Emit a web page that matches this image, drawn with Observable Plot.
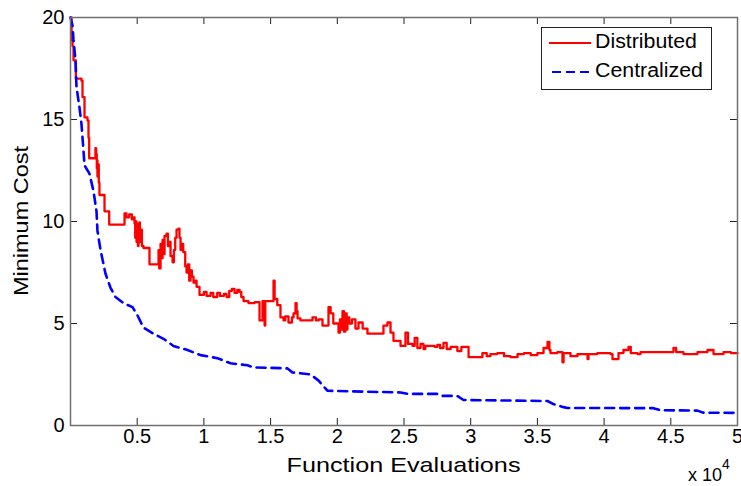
<!DOCTYPE html>
<html>
<head>
<meta charset="utf-8">
<script src="https://cdn.jsdelivr.net/npm/d3@7"></script>
<script src="https://cdn.jsdelivr.net/npm/@observablehq/plot@0.6"></script>
<style>
  html, body { margin: 0; padding: 0; background: #ffffff; }
  #chart { width: 741px; height: 486px; }
</style>
</head>
<body>
<div id="chart"></div>
<script>
// x values in units of 10^4 function evaluations
const distX = [0,0.0075,0.008,0.015,0.0225,0.037,0.04,0.082,0.09,0.105,0.127,0.135,0.14,0.18,0.187,0.192,0.197,0.2,0.202,0.207,0.212,0.217,0.255,0.29,0.405,0.42,0.44,0.46,0.472,0.48,0.485,0.49,0.495,0.5,0.505,0.51,0.517,0.52,0.527,0.535,0.547,0.592,0.645,0.66,0.665,0.675,0.68,0.69,0.695,0.705,0.72,0.73,0.74,0.75,0.765,0.775,0.785,0.795,0.81,0.817,0.825,0.832,0.845,0.86,0.87,0.88,0.89,0.9,0.91,0.922,0.935,0.945,0.967,1.0,1.02,1.05,1.07,1.1,1.12,1.15,1.17,1.19,1.21,1.23,1.25,1.267,1.28,1.297,1.334,1.38,1.417,1.44,1.455,1.46,1.514,1.522,1.53,1.55,1.574,1.597,1.61,1.634,1.66,1.672,1.687,1.695,1.702,1.724,1.784,1.814,1.84,1.86,1.889,1.919,1.934,1.95,1.97,2.009,2.02,2.03,2.039,2.05,2.06,2.07,2.076,2.09,2.11,2.136,2.159,2.19,2.226,2.324,2.346,2.376,2.399,2.421,2.474,2.511,2.53,2.564,2.58,2.6,2.624,2.646,2.66,2.73,2.75,2.77,2.796,2.82,2.85,2.9,2.93,2.984,3.05,3.088,3.12,3.148,3.2,3.25,3.298,3.351,3.4,3.45,3.5,3.546,3.576,3.59,3.598,3.65,3.688,3.696,3.748,3.8,3.846,3.876,3.883,3.95,4.048,4.063,4.108,4.145,4.183,4.2,4.25,4.273,4.4,4.498,4.52,4.54,4.595,4.648,4.7,4.775,4.82,4.895,4.95,5.0];
const distY = [20,19.8,18.9,18.6,17.9,17.9,17.0,16.9,16.1,15.1,14.95,14.1,13.1,13.1,13.6,13.3,12.6,13.0,12.2,12.8,11.9,11.3,10.5,9.85,10.4,10.2,10.35,10.1,10.2,9.9,9.2,10.0,9.0,9.6,8.8,9.9,9.95,9.0,9.6,8.8,8.7,7.9,7.9,8.6,7.7,8.9,8.2,9.1,8.4,9.3,9.4,8.8,9.0,8.3,8.0,8.6,9.2,9.6,9.65,9.2,8.6,8.9,8.5,7.8,7.5,7.9,7.1,7.6,7.3,7.0,7.1,6.8,6.4,6.55,6.35,6.5,6.3,6.5,6.35,6.45,6.3,6.6,6.7,6.5,6.65,6.55,6.3,6.1,6.0,6.05,5.15,6.1,4.9,6.1,6.1,7.1,6.2,5.9,5.3,5.15,5.35,5.05,5.3,5.5,6.0,5.6,5.25,5.15,5.15,5.3,5.15,5.2,4.9,4.9,5.8,5.5,5.0,4.55,5.2,4.7,5.6,4.6,5.5,4.7,5.3,5.0,5.2,4.75,5.05,4.75,4.5,4.5,4.9,5.05,4.55,4.15,3.9,4.55,4.0,3.9,4.3,3.8,4.0,3.75,3.9,3.85,3.95,3.8,4.05,3.75,3.85,3.65,3.85,3.35,3.35,3.55,3.4,3.5,3.55,3.4,3.35,3.5,3.55,3.45,3.55,3.8,4.1,3.7,3.55,3.6,3.1,3.55,3.4,3.5,3.5,3.25,3.5,3.55,3.5,3.25,3.55,3.7,3.85,3.55,3.5,3.6,3.6,3.6,3.8,3.6,3.5,3.5,3.6,3.7,3.5,3.6,3.55,3.55];

const centX = [0,0.015,0.0225,0.0375,0.045,0.067,0.082,0.097,0.105,0.142,0.172,0.195,0.202,0.225,0.262,0.3,0.337,0.397,0.465,0.502,0.547,0.622,0.697,0.772,0.877,0.975,1.102,1.2,1.327,1.372,1.627,1.664,1.8,1.86,1.927,2.474,2.526,2.751,2.789,2.9,2.946,3.576,3.62,3.696,3.726,4.37,4.42,4.7,4.745,5.0];
const centY = [20,19.6,18.9,17.9,16.6,15.6,14.8,13.5,12.75,12.35,11.5,10.5,9.55,8.6,7.45,6.75,6.3,6.0,5.8,5.4,4.8,4.5,4.25,3.9,3.7,3.45,3.3,3.05,2.95,2.85,2.8,2.6,2.5,2.2,1.7,1.62,1.55,1.55,1.45,1.45,1.25,1.2,1.05,0.9,0.86,0.85,0.75,0.73,0.63,0.62];

const seriesNames = ["Distributed", "Centralized"];
const xTicks = [0.5,1,1.5,2,2.5,3,3.5,4,4.5,5];
const xTickLabels = ["0.5","1","1.5","2","2.5","3","3.5","4","4.5","5"];
const yTicks = [0,5,10,15,20];
const xLabel = "Function Evaluations";
const yLabel = "Minimum Cost";
const xExponent = "4";

const W = 741, H = 486, mL = 70, mR = 4, mT = 17, mB = 61;
const innerW = W - mL - mR, innerH = H - mT - mB;
const tickLen = 7;

const dist = distX.map((x, i) => ({x, y: distY[i]}));
const cent = centX.map((x, i) => ({x, y: centY[i]}));

const chart = Plot.plot({
  width: W, height: H,
  marginLeft: mL, marginRight: mR, marginTop: mT, marginBottom: mB,
  x: {domain: [0, 5]},
  y: {domain: [0, 20]},
  style: {fontFamily: "'Liberation Sans', Arial, sans-serif", fontSize: "20px", background: "#ffffff", color: "#000000", overflow: "visible"},
  marks: [
    Plot.line(dist, {x: "x", y: "y", stroke: "#ff0000", strokeWidth: 2.3, curve: "step-after"}),
    Plot.line(cent, {x: "x", y: "y", stroke: "#0000ff", strokeWidth: 2.6, strokeDasharray: "9,6"}),
    Plot.ruleX(xTicks, {stroke: "#222", strokeWidth: 1, insetTop: innerH - tickLen}),
    Plot.ruleX(xTicks, {stroke: "#222", strokeWidth: 1, insetBottom: innerH - tickLen}),
    Plot.ruleY(yTicks, {stroke: "#222", strokeWidth: 1, insetRight: innerW - tickLen}),
    Plot.ruleY(yTicks, {stroke: "#222", strokeWidth: 1, insetLeft: innerW - tickLen}),
    Plot.frame({stroke: "#707070", strokeWidth: 1.5}),
    Plot.axisX(xTicks, {tickSize: 0, tickPadding: 3, tickFormat: (d, i) => xTickLabels[i], label: null, fontSize: 20}),
    Plot.axisY(yTicks, {tickSize: 0, tickPadding: 6, label: null, fontSize: 20})
  ]
});

document.getElementById("chart").appendChild(chart);

const svg = d3.select(chart);
const font = "'Liberation Sans', Arial, sans-serif";

// axis labels
svg.append("text")
  .attr("x", mL + innerW / 2).attr("y", 466)
  .attr("text-anchor", "middle").attr("dominant-baseline", "middle")
  .attr("font-family", font).attr("font-size", 21)
  .attr("textLength", 234).attr("lengthAdjust", "spacingAndGlyphs")
  .text(xLabel);

svg.append("text")
  .attr("transform", `translate(22, ${mT + innerH / 2}) rotate(-90)`)
  .attr("text-anchor", "middle").attr("dominant-baseline", "middle")
  .attr("font-family", font).attr("font-size", 21)
  .attr("textLength", 150).attr("lengthAdjust", "spacingAndGlyphs")
  .text(yLabel);

// x 10^4 multiplier
const mult = svg.append("text")
  .attr("x", 688).attr("y", 481).attr("text-anchor", "start")
  .attr("font-family", font).attr("font-size", 18);
mult.append("tspan").text("x 10");
mult.append("tspan").attr("dy", -12).attr("font-size", 14).text(xExponent);

// legend
const lg = svg.append("g").attr("text-anchor", "start");
lg.append("rect").attr("x", 541.5).attr("y", 27.5).attr("width", 170).attr("height", 62)
  .attr("fill", "#ffffff").attr("stroke", "#222").attr("stroke-width", 1);
lg.append("line").attr("x1", 549).attr("x2", 591).attr("y1", 43).attr("y2", 43)
  .attr("stroke", "#ff0000").attr("stroke-width", 2);
lg.append("line").attr("x1", 552).attr("x2", 591).attr("y1", 72).attr("y2", 72)
  .attr("stroke", "#0000ff").attr("stroke-width", 2).attr("stroke-dasharray", "9,5");
lg.append("text").attr("x", 595).attr("y", 43).attr("dominant-baseline", "middle")
  .attr("text-anchor", "start")
  .attr("font-family", font).attr("font-size", 20)
  .attr("textLength", 102).attr("lengthAdjust", "spacingAndGlyphs").text(seriesNames[0]);
lg.append("text").attr("x", 595).attr("y", 72).attr("dominant-baseline", "middle")
  .attr("text-anchor", "start")
  .attr("font-family", font).attr("font-size", 20)
  .attr("textLength", 108).attr("lengthAdjust", "spacingAndGlyphs").text(seriesNames[1]);
</script>
</body>
</html>
